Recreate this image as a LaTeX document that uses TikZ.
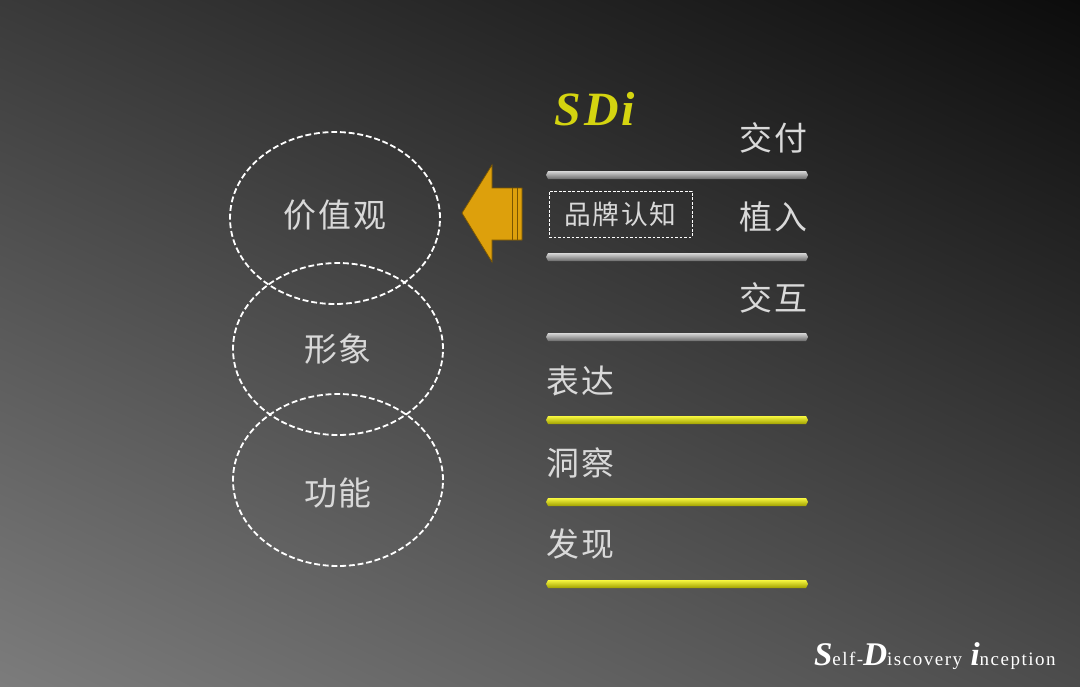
\documentclass[tikz,border=0pt]{standalone}
\usepackage{fontspec}
\setmainfont{Liberation Serif}
\newfontfamily\cjk[LetterSpace=6]{Noto Sans CJK SC}
\newfontfamily\tagfont[LetterSpace=8]{Liberation Serif}
\newfontfamily\sdifont[LetterSpace=6]{Liberation Serif}
\usetikzlibrary{shapes.geometric}
\usetikzlibrary{shadings}
\usetikzlibrary{positioning}
\definecolor{bgTL}{HTML}{3A3A3A}
\definecolor{bgTR}{HTML}{0C0C0C}
\definecolor{bgBL}{HTML}{7C7C7C}
\definecolor{bgBR}{HTML}{4C4C4C}
\definecolor{txt}{HTML}{D9D9D9}
\definecolor{gold}{HTML}{DDA00C}
\definecolor{goldDark}{HTML}{7A5600}
\definecolor{sdiYellow}{HTML}{D4D410}
\definecolor{greyHi}{HTML}{D8D8D8}
\definecolor{greyMid}{HTML}{A8A8A8}
\definecolor{greyLo}{HTML}{6A6A6A}
\definecolor{yelHi}{HTML}{F8F840}
\definecolor{yelMid}{HTML}{EEEE00}
\definecolor{yelLo}{HTML}{A0A000}
\newcommand{\PX}{0.025cm}
\newcommand{\TS}{\cjk\fontsize{23.4}{28}\selectfont}
\newcommand{\BigL}[1]{{\fontsize{23.5}{28}\selectfont\bfseries\itshape #1}}
\newcommand{\BarShape}[1]{(548,#1-4) -- (806,#1-4) -- (808,#1) -- (806,#1+4) -- (548,#1+4) -- (546,#1) -- cycle}
\newcommand{\GreyBar}[1]{\shade[top color=greyHi,middle color=greyMid,bottom color=greyLo] \BarShape{#1};}
\newcommand{\YelBar}[1]{\shade[top color=yelHi,middle color=yelMid,bottom color=yelLo] \BarShape{#1};}

\begin{document}
\begin{tikzpicture}[x=\PX,y=-\PX,
    ring/.style={ellipse,draw=white,line width=1.3pt,dash pattern=on 4.2pt off 2pt,
        minimum width=210*\PX,minimum height=172*\PX,inner sep=0pt,text=txt,font=\TS},
    lbl/.style={text=txt,font=\TS,inner sep=0pt},
    brandbox/.style={draw=white,line width=0.6pt,dash pattern=on 1.8pt off 1.4pt,
        minimum width=143*\PX,minimum height=46*\PX,text=txt,
        font=\cjk\fontsize{19}{23}\selectfont}]
    \useasboundingbox (0,0) rectangle (1080,686);
    \shade[upper left=bgTL,upper right=bgTR,lower left=bgBL,lower right=bgBR] (0,0) rectangle (1080,686);

    % circles
    \node[ring] (value) at (335,218) {\raisebox{-7pt}[0pt][0pt]{价值观}};
    \node[ring] (image) at (338,349) {形象};
    \node[ring] (func) at (338,480) {\raisebox{-18pt}[0pt][0pt]{功能}};

    % arrow
    \filldraw[fill=gold,draw=goldDark,line width=0.5pt] (462,213) -- (492,165) -- (492,188) -- (522,188)
        -- (522,240) -- (492,240) -- (492,262) -- cycle;
    \draw[goldDark,line width=0.9pt] (512.5,188) -- (512.5,240) (517.5,188) -- (517.5,240);

    % bars
    \GreyBar{175}
    \GreyBar{257}
    \GreyBar{337}
    \YelBar{420}
    \YelBar{502}
    \YelBar{584}

    \node[anchor=base west,text=sdiYellow,font=\sdifont\bfseries\itshape\fontsize{34}{40}\selectfont] (sdi) at (550,125) {SDi};

    \node[lbl,anchor=east] (deliver) at (808,138) {交付};
    \node[brandbox] (brand) at (620.5,214) {品牌认知};
    \node[lbl,anchor=east] (plant) at (808,217) {植入};
    \node[lbl,anchor=east] (interact) at (808,298) {交互};
    \node[lbl,anchor=west] (express) at (546,381) {表达};
    \node[lbl,anchor=west] (insight) at (546,463) {洞察};
    \node[lbl,anchor=west] (discover) at (546,544) {发现};

    \node[anchor=base east,inner sep=0pt,text=white,font=\tagfont\fontsize{13.5}{16}\selectfont] (tag) at (1056,665)
        {\BigL{S}elf-\BigL{D}iscovery\hspace{6pt}\BigL{i}nception};
\end{tikzpicture}
\end{document}
